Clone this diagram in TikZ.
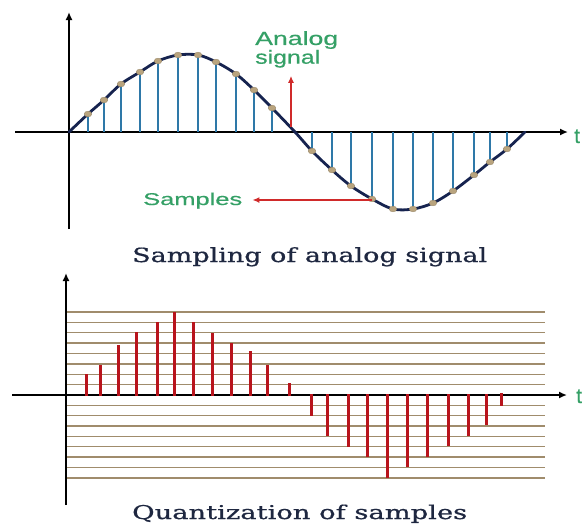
\documentclass[tikz,border=0pt]{standalone}
\usepackage{fontspec}
\usepackage{graphicx}
\setmainfont{DejaVu Serif}
\newfontfamily\capfont[FakeBold=0.7]{DejaVu Serif}
\newfontfamily\labelfont[FakeBold=0.5]{Liberation Sans}
\usetikzlibrary{arrows.meta}
\definecolor{navy}{HTML}{16234F}
\definecolor{stemblue}{HTML}{2E78A8}
\definecolor{dottan}{HTML}{B9A47E}
\definecolor{lblgreen}{HTML}{35A066}
\definecolor{arrred}{HTML}{D02A2A}
\definecolor{barred}{HTML}{B8141C}
\definecolor{gridtan}{HTML}{A08C6C}
\definecolor{capnavy}{HTML}{1E2740}
\begin{document}
\begin{tikzpicture}[x=1pt,y=-1pt,
  axis/.style={line width=2.2pt,-{Latex[length=8pt,width=7pt]}},
  stemline/.style={stemblue,line width=2.2pt},
  curveline/.style={navy,line width=2.8pt,line cap=round,line join=round},
  sampledot/.style={fill=dottan,draw=dottan!80!black,line width=0.3pt},
  redarrow/.style={arrred,line width=2pt,-{Latex[length=7pt,width=6pt]}},
  gridline/.style={gridtan,line width=1.4pt},
  qbar/.style={barred,line width=3pt},
  lbl/.style={text=lblgreen,inner sep=0pt},
  caption/.style={text=capnavy,inner sep=0pt,anchor=base west}]
\useasboundingbox (0,0) rectangle (585,525);

% ---------- top: sampling ----------
\draw[axis] (15,132) -- (568,132);
\draw[axis] (69,229) -- (69,12);

\foreach \x/\y in {88/114,104/100,121/84,140/73,158/61,178/55,198/55,216/62,236/73,254/91,272/108,
                   312/151,332/170,351/187,372/199,393/209,413/209,433/203,453/192,474/174,490/163,507/149}
  \draw[stemline] (\x,132) -- (\x,\y);

\draw[curveline] plot[smooth,tension=0.55] coordinates {(69,132) (88,114) (104,100) (121,84) (140,72) (158,61) (178,55) (198,55) (216,62) (236,74) (254,90) (272,108) (295,132)
  (312,151) (332,170) (351,186) (372,199) (393,209) (413,209) (433,203) (453,191) (474,175) (490,162) (507,149) (525,132)};

\foreach \x/\y in {88/114,104/100,121/84,140/72,158/61,178/55,198/55,216/62,236/74,254/90,272/108,
                   312/151,332/170,351/186,372/199,393/209,413/209,433/203,453/191,474/175,490/162,507/149}
  \fill[sampledot] (\x,\y) ellipse [x radius=3.8pt,y radius=2.9pt];

\node[lbl,anchor=north west,align=left,font=\labelfont\fontsize{19}{17}\selectfont] (analog) at (255,31)
  {\resizebox{83pt}{\height}{Analog}\\\resizebox{65pt}{\height}{signal}};
\coordinate (anabase) at (291,127);
\draw[redarrow,shorten >=8pt] (anabase) -- (anabase |- analog.south);

\node[lbl,anchor=base west,font=\labelfont\fontsize{17}{17}\selectfont] (samples) at (143,205)
  {\resizebox{99pt}{\height}{Samples}};
\coordinate (sampbase) at (372,200);
\draw[redarrow,shorten >=10pt] (sampbase) -- (sampbase -| samples.east);

\node[lbl,anchor=base west,font=\labelfont\fontsize{21}{21}\selectfont] (t1) at (574,143) {t};

\node[caption,font=\capfont\fontsize{19.5}{19.5}\selectfont] (cap1) at (132,262)
  {\resizebox{355pt}{\height}{Sampling of analog signal}};

% ---------- bottom: quantization ----------
\foreach \k in {1,...,8} {
  \draw[gridline] (67,{395-10.4*\k}) -- (545,{395-10.4*\k});
  \draw[gridline] (67,{395+10.35*\k}) -- (545,{395+10.35*\k});
}
\draw[axis] (12,395) -- (567,395);
\draw[axis] (66,505) -- (66,273);

\foreach \x/\y in {86/374,100/365,118/345,136/332,157/322,174/312,193/322,212/333,231/343,250/351,267/365,289/383}
  \draw[qbar] (\x,396) -- (\x,\y);
\foreach \x/\y in {311/416,327/436,348/447,367/457,387/478,407/467,427/457,448/446,468/436,486/425}
  \draw[qbar] (\x,394) -- (\x,\y);
\draw[qbar] (501,393) -- (501,406);

\node[lbl,anchor=base west,font=\labelfont\fontsize{21}{21}\selectfont] (t2) at (576,403) {t};

\node[caption,font=\capfont\fontsize{19}{19}\selectfont] (cap2) at (132,519)
  {\resizebox{335pt}{\height}{Quantization of samples}};
\end{tikzpicture}
\end{document}
